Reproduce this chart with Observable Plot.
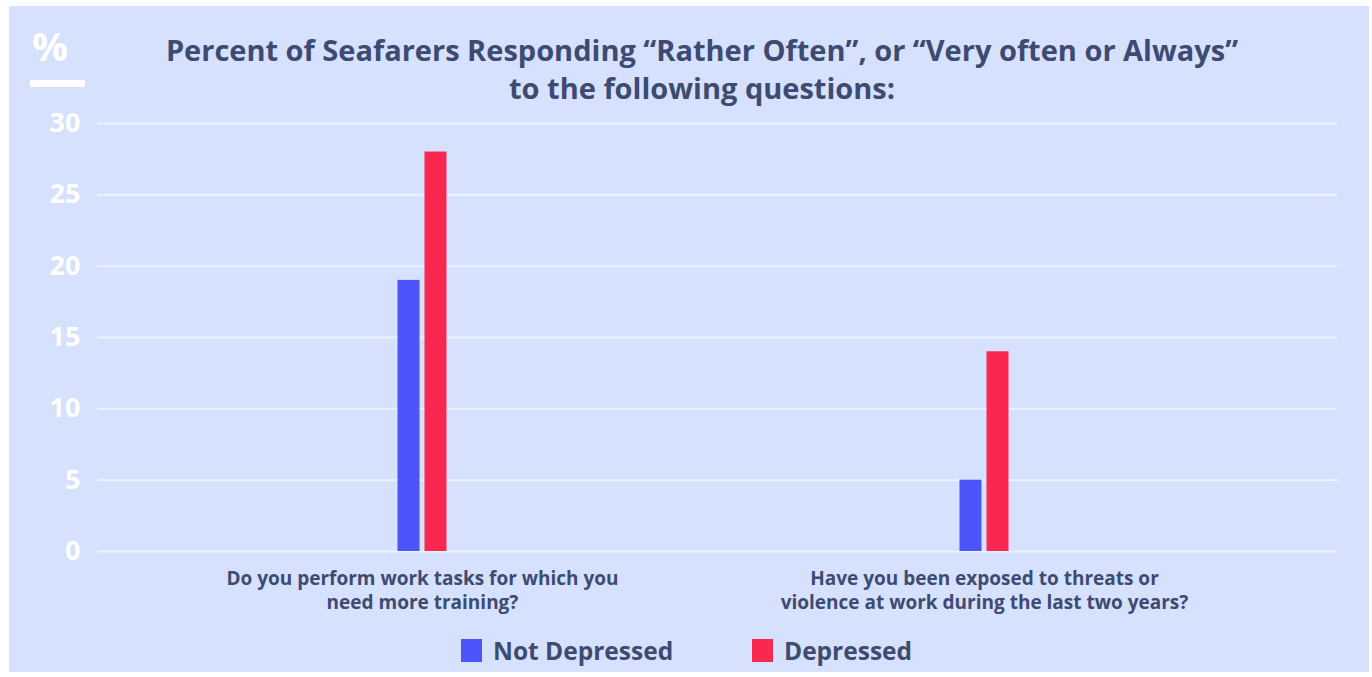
<!DOCTYPE html>
<html><head><meta charset="utf-8">
<script src="https://cdn.jsdelivr.net/npm/d3@7"></script>
<script src="https://cdn.jsdelivr.net/npm/@observablehq/plot@0.6"></script>
<style>
html,body{margin:0;padding:0;background:#fff;}
#wrap{position:relative;width:1372px;height:677px;overflow:hidden;font-family:"Open Sans",Lato,sans-serif;}
#panel{position:absolute;left:9px;top:6px;width:1360px;height:666px;background:#d6e1fd;}
#title{position:absolute;left:0;width:1404px;top:31px;text-align:center;color:#3d4a72;font-weight:bold;font-size:29px;line-height:38px;}
#pct{position:absolute;left:32px;top:18px;color:#fff;font-weight:bold;font-size:40px;}
#pctbar{position:absolute;left:30px;top:80px;width:55px;height:7px;background:#fff;}
#chart{position:absolute;left:0;top:0;}
#legend{position:absolute;top:634px;left:0;width:1372px;height:30px;}
.li{position:absolute;display:flex;align-items:center;color:#3d4a72;font-weight:bold;font-size:24.5px;}
.sw{width:21px;height:23px;margin-right:11px;}
</style></head>
<body><div id="wrap">
<div id="panel"></div>
<div id="pct">%</div><div id="pctbar"></div>
<div id="title">Percent of Seafarers Responding “Rather Often”, or “Very often or Always”<br>to the following questions:</div>
<div id="chart"></div>
<div id="legend"></div>
</div>
<script>
const questions = ["Do you perform work tasks for which you\nneed more training?", "Have you been exposed to threats or\nviolence at work during the last two years?"];
const seriesNames = ["Not Depressed", "Depressed"];
const notDepressed = [19, 5];
const depressed = [28, 14];
const colors = ["#4b55f9", "#fa2851"];
const yTicks = [0, 5, 10, 15, 20, 25, 30];

const rows = [];
questions.forEach((q, i) => {
  rows.push({question: q, series: seriesNames[0], value: notDepressed[i]});
  rows.push({question: q, series: seriesNames[1], value: depressed[i]});
});

const bandInset = (562 - 22) / 2;
const chart = Plot.plot({
  width: 1372, height: 620,
  marginLeft: 97, marginRight: 35, marginTop: 123, marginBottom: 69,
  style: {background: "transparent", fontFamily: "'Open Sans', Lato, sans-serif"},
  x: {type: "band", domain: questions, range: [141, 1265], padding: 0, axis: null},
  y: {domain: [0, 30], ticks: yTicks, axis: null},
  color: {domain: seriesNames, range: colors},
  marks: [
    Plot.ruleY(yTicks, {stroke: "#f2f5ff", strokeOpacity: 0.85, strokeWidth: 2}),
    Plot.axisY({ticks: yTicks, tickSize: 0, tickPadding: 17, fontSize: 27, fontWeight: "bold", fill: "#ffffff", label: null}),
    Plot.barY(rows.filter(d => d.series === seriesNames[0]), {x: "question", y: "value", fill: "series", insetLeft: bandInset, insetRight: bandInset, dx: -13.5}),
    Plot.barY(rows.filter(d => d.series === seriesNames[1]), {x: "question", y: "value", fill: "series", insetLeft: bandInset, insetRight: bandInset, dx: 13.5}),
    Plot.text(questions, {x: d => d, y: () => 0, text: d => d, dy: 16, lineAnchor: "top", lineHeight: 1.27, fontSize: 19, fontWeight: "bold", fill: "#3d4a72"})
  ]
});
document.getElementById("chart").appendChild(chart);

const legend = document.getElementById("legend");
const legX = [461, 752];
seriesNames.forEach((s, i) => {
  const el = document.createElement("div");
  el.className = "li";
  el.style.left = legX[i] + "px";
  el.innerHTML = `<span class="sw" style="background:${colors[i]}"></span>${s}`;
  legend.appendChild(el);
});
</script>
</body></html>
